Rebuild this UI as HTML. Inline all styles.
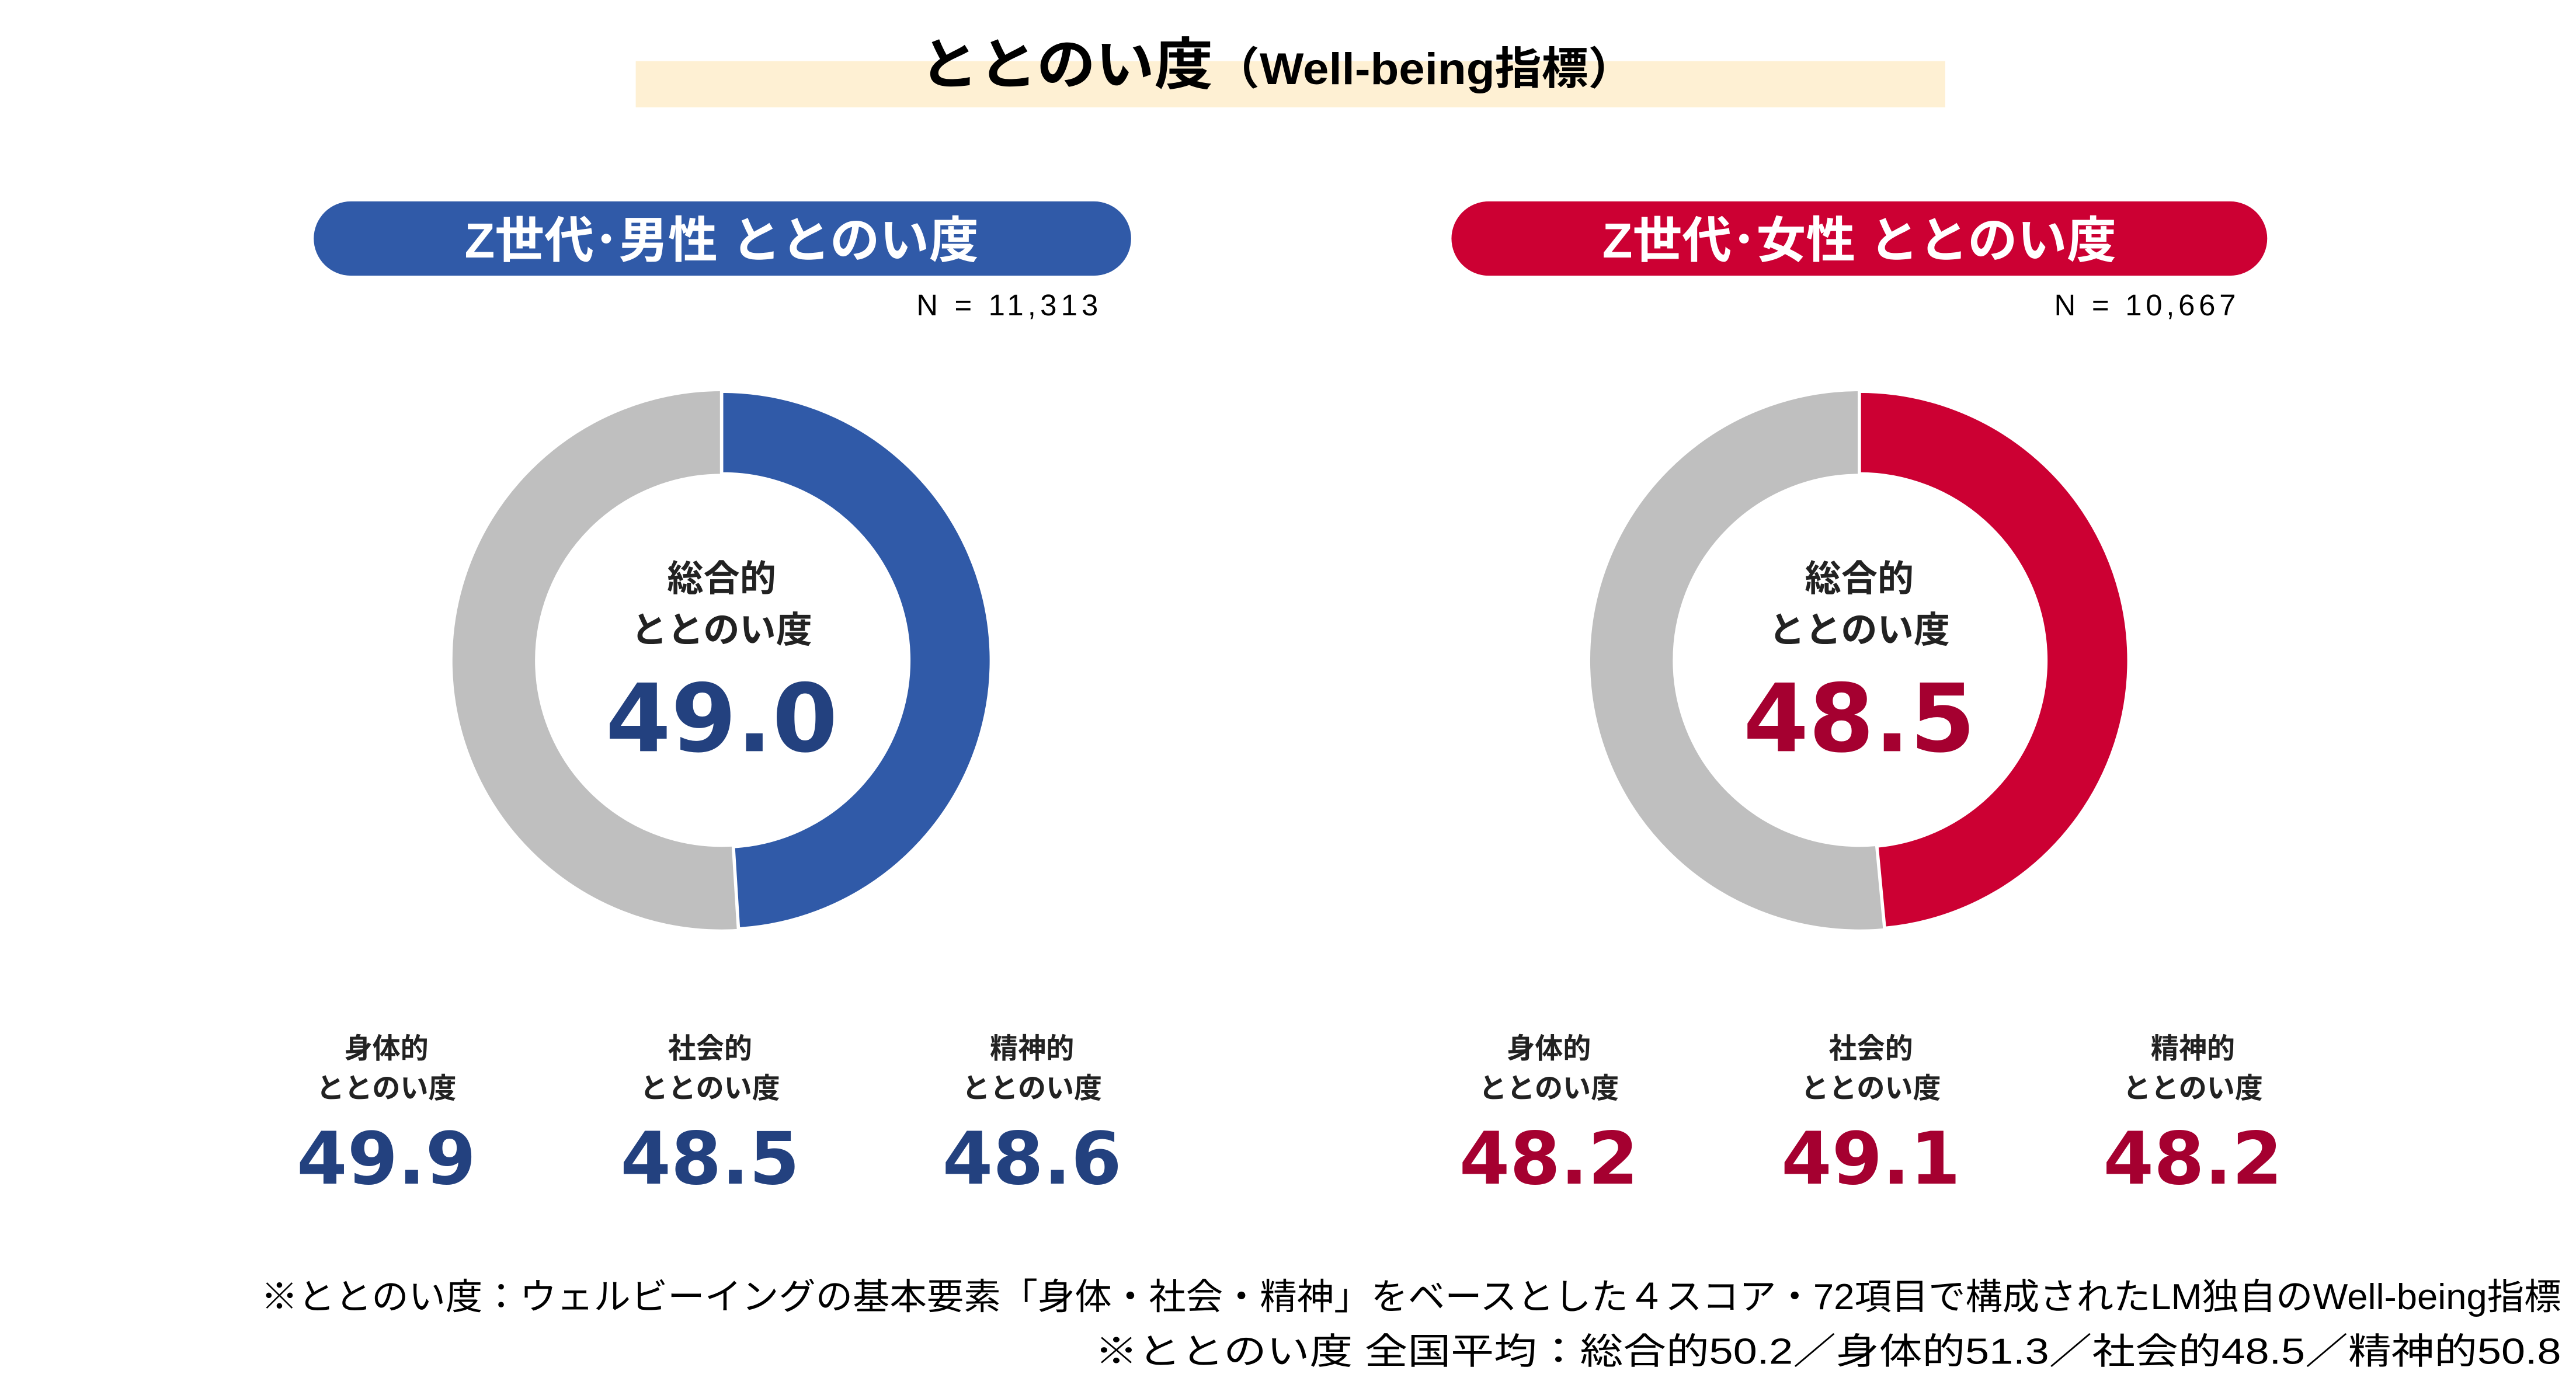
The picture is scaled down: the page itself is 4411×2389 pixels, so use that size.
<!DOCTYPE html>
<html><head><meta charset="utf-8"><style>
html,body{margin:0;padding:0;background:#fff;}
svg{display:block;}
.jp{font-family:"Liberation Sans","Noto Sans CJK JP",sans-serif;}
.num{font-family:"DejaVu Sans","Liberation Sans",sans-serif;font-weight:bold;}
</style></head><body>
<svg width="4411" height="2389" viewBox="0 0 1560 845" preserveAspectRatio="none" xmlns="http://www.w3.org/2000/svg">
<rect x="0" y="0" width="1560" height="845" fill="#fff"/>
<rect x="385" y="37" width="793" height="28" fill="#FEF0D3"/>
<text x="557" y="51" class="jp" font-weight="bold" font-size="34" fill="#000" textLength="433" lengthAdjust="spacingAndGlyphs">ととのい度<tspan font-size="27">（Well-being指標）</tspan></text>

<rect x="190" y="122" width="495" height="45" rx="22.5" fill="#305AA8"/>
<text x="437" y="156" text-anchor="middle" class="jp" font-weight="bold" font-size="30" fill="#fff">Z世代･男性 ととのい度</text>
<rect x="879" y="122" width="494" height="45" rx="22.5" fill="#CC0033"/>
<text x="1126" y="156" text-anchor="middle" class="jp" font-weight="bold" font-size="30" fill="#fff">Z世代･女性 ととのい度</text>

<text x="555" y="191" class="jp" font-size="18" fill="#000" textLength="110" lengthAdjust="spacing">N = 11,313</text>
<text x="1244" y="191" class="jp" font-size="18" fill="#000" textLength="110" lengthAdjust="spacing">N = 10,667</text>

<circle cx="437" cy="400" r="138" fill="none" stroke="#BFBFBF" stroke-width="50"/>
<path d="M437,237 A163,163 0 0 1 447.2,562.7 L444.1,512.8 A113,113 0 0 0 437,287 Z" fill="#305AA8" stroke="#fff" stroke-width="2"/>
<text x="437" y="358" text-anchor="middle" class="jp" font-weight="bold" font-size="22" fill="#222">総合的</text>
<text x="437" y="389" text-anchor="middle" class="jp" font-weight="bold" font-size="22" fill="#222">ととのい度</text>
<text x="437" y="455" text-anchor="middle" class="num" font-size="57" fill="#23417F">49.0</text>

<circle cx="1126" cy="400" r="138" fill="none" stroke="#BFBFBF" stroke-width="50"/>
<path d="M1126,237 A163,163 0 0 1 1141.3,562.3 L1136.6,512.5 A113,113 0 0 0 1126,287 Z" fill="#CC0033" stroke="#fff" stroke-width="2"/>
<text x="1126" y="358" text-anchor="middle" class="jp" font-weight="bold" font-size="22" fill="#222">総合的</text>
<text x="1126" y="389" text-anchor="middle" class="jp" font-weight="bold" font-size="22" fill="#222">ととのい度</text>
<text x="1126" y="455" text-anchor="middle" class="num" font-size="57" fill="#A50030">48.5</text>

<g class="jp" font-weight="bold" font-size="17" fill="#222" text-anchor="middle">
<text x="234" y="641">身体的</text><text x="234" y="665">ととのい度</text>
<text x="430" y="641">社会的</text><text x="430" y="665">ととのい度</text>
<text x="625" y="641">精神的</text><text x="625" y="665">ととのい度</text>
<text x="938" y="641">身体的</text><text x="938" y="665">ととのい度</text>
<text x="1133" y="641">社会的</text><text x="1133" y="665">ととのい度</text>
<text x="1328" y="641">精神的</text><text x="1328" y="665">ととのい度</text>
</g>
<g class="num" font-size="44" text-anchor="middle">
<text x="234" y="717" fill="#23417F">49.9</text>
<text x="430" y="717" fill="#23417F">48.5</text>
<text x="625" y="717" fill="#23417F">48.6</text>
<text x="938" y="717" fill="#A50030">48.2</text>
<text x="1133" y="717" fill="#A50030">49.1</text>
<text x="1328" y="717" fill="#A50030">48.2</text>
</g>

<text x="1551" y="793" text-anchor="end" class="jp" font-size="22" fill="#000" textLength="1393" lengthAdjust="spacingAndGlyphs">※ととのい度：ウェルビーイングの基本要素「身体・社会・精神」をベースとした４スコア・72項目で構成されたLM独自のWell-being指標</text>
<text x="1551" y="826" text-anchor="end" class="jp" font-size="22" fill="#000" textLength="888" lengthAdjust="spacingAndGlyphs">※ととのい度 全国平均：総合的50.2／身体的51.3／社会的48.5／精神的50.8</text>
</svg>
</body></html>
